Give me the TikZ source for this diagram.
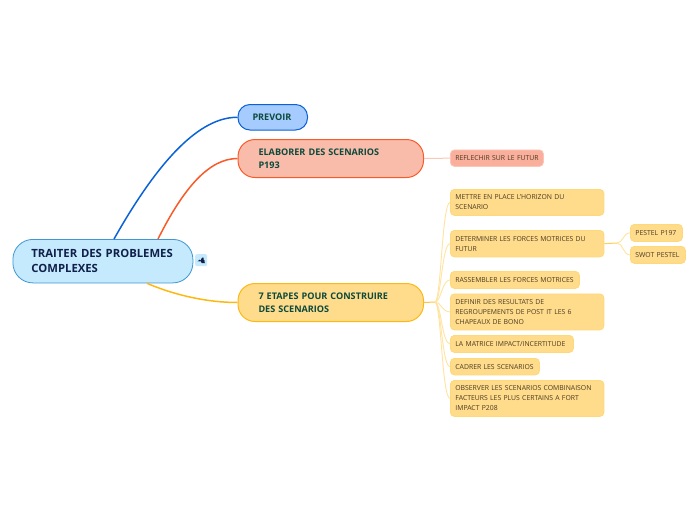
\documentclass[tikz,border=0pt]{standalone}
\usepackage{fontspec}
\setmainfont{Open Sans}
\definecolor{rootfill}{HTML}{C5E9FD}
\definecolor{rootline}{HTML}{3F97D3}
\definecolor{rootink}{HTML}{10204A}
\definecolor{bluefill}{HTML}{A6CBFE}
\definecolor{blueline}{HTML}{0A62D6}
\definecolor{redfill}{HTML}{FABCAA}
\definecolor{redline}{HTML}{FA5A28}
\definecolor{yelfill}{HTML}{FFDB8C}
\definecolor{yelline}{HTML}{FDB813}
\definecolor{maink}{HTML}{0B4A3C}
\definecolor{subink}{HTML}{4A3A20}
\definecolor{redsub}{HTML}{F9AF9B}
\definecolor{redsubline}{HTML}{FCC6B6}
\definecolor{yelsubline}{HTML}{FFE3A0}
\definecolor{yelboxline}{HTML}{FFD878}
\tikzset{
 x=1pt,y=-1pt,
 rootbox/.style={draw=rootline,fill=rootfill,line width=.8pt,rounded corners=20pt,anchor=north west,text=rootink,align=left,font=\fontsize{11.3}{15}\selectfont\bfseries,inner ysep=0pt,inner xsep=0pt},
 mainbox/.style={line width=1pt,rounded corners=17pt,anchor=north west,text=maink,align=left,font=\fontsize{9.1}{13}\selectfont\bfseries,inner ysep=0pt,inner xsep=0pt},
 subbox/.style={draw=yelboxline,fill=yelfill,line width=.8pt,rounded corners=4pt,anchor=north west,text=subink,align=left,font=\fontsize{6.85}{10}\selectfont,inner ysep=0pt,inner xsep=0pt},
 redbox/.style={subbox,draw=redsubline,fill=redsub},
 maincurve/.style={line width=1.5pt},
 fan/.style={draw=yelsubline,line width=.9pt},
 stem/.style={draw=yelline!70!yelsubline,line width=1pt},
}
\begin{document}
\begin{tikzpicture}
\useasboundingbox (0,0) rectangle (696,520);
\node[rootbox,minimum width=180pt,minimum height=43.5pt,text width=143pt] (root) at (12.5,239) {\mbox{TRAITER DES PROBLEMES}\\COMPLEXES};
\node[mainbox,rounded corners=12pt,draw=blueline,fill=bluefill,minimum width=69.5pt,minimum height=25.5pt,text width=40.5pt] (prevoir) at (237.5,104) {\mbox{PREVOIR}};
\node[mainbox,draw=redline,fill=redfill,minimum width=185.5pt,minimum height=38pt,text width=144.5pt] (elab) at (237.5,139) {\mbox{ELABORER DES SCENARIOS}\\P193};
\node[mainbox,draw=yelline,fill=yelfill,minimum width=185.5pt,minimum height=38pt,text width=144.5pt] (etapes) at (237.5,283) {\mbox{7 ETAPES POUR CONSTRUIRE}\\DES SCENARIOS};
\node[redbox,minimum width=93pt,minimum height=16.5pt,text width=83pt] (reflechir) at (450,149.5) {\mbox{REFLECHIR SUR LE FUTUR}};
\node[subbox,minimum width=153.5pt,minimum height=26pt,text width=143.5pt] (mettre) at (450,189) {\mbox{METTRE EN PLACE L'HORIZON DU}\\SCENARIO};
\node[subbox,minimum width=153.5pt,minimum height=26.5pt,text width=143.5pt] (determiner) at (450,230) {\mbox{DETERMINER LES FORCES MOTRICES DU}\\FUTUR};
\node[subbox,minimum width=129pt,minimum height=17pt,text width=119pt] (rassembler) at (450,271) {\mbox{RASSEMBLER LES FORCES MOTRICES}};
\node[subbox,minimum width=153.5pt,minimum height=36pt,text width=143.5pt] (definir) at (450,293.5) {\mbox{DEFINIR DES RESULTATS DE}\\\mbox{REGROUPEMENTS DE POST IT LES 6}\\CHAPEAUX DE BONO};
\node[subbox,minimum width=123pt,minimum height=17pt,text width=113pt] (matrice) at (450,335) {\mbox{LA MATRICE IMPACT/INCERTITUDE}};
\node[subbox,minimum width=89pt,minimum height=16.5pt,text width=79pt] (cadrer) at (450,358) {\mbox{CADRER LES SCENARIOS}};
\node[subbox,minimum width=153.5pt,minimum height=36pt,text width=143.5pt] (observer) at (450,380) {\mbox{OBSERVER LES SCENARIOS COMBINAISON}\\\mbox{FACTEURS LES PLUS CERTAINS A FORT}\\IMPACT P208};
\node[subbox,minimum width=52pt,minimum height=17pt,text width=42pt] (pestel) at (630,224) {\mbox{PESTEL P197}};
\node[subbox,minimum width=55pt,minimum height=17pt,text width=45pt] (swot) at (630,246) {\mbox{SWOT PESTEL}};
\node[draw=none,fill=rootfill,rounded corners=2pt,minimum width=12pt,minimum height=12pt,inner sep=0pt,anchor=north west] (icon) at (195,254) {};
\fill[rootink] ([shift={(2.5,7.5)}]icon.north west) -- ++(2,-2) -- ++(1,1) -- ++(1.5,-3) -- ++(1.5,0) -- ++(0,2) -- ++(1.5,1.5) -- ++(-.8,.5) -- ++(.8,1.5) -- ++(-3.5,0) -- ++(-.5,-2) -- ++(-1,.5) -- ++(-1,-.5) -- cycle;
\coordinate (b1) at (435,302);
\coordinate (b2) at (617,243);
\draw[blueline,maincurve] ([xshift=101.5pt]root.north west) .. controls +(52,-92) and +(-32,0) .. (prevoir.west);
\draw[redline,maincurve] ([xshift=145.5pt]root.north west) .. controls +(26,-52) and +(-28,0) .. (elab.west);
\draw[yelline,maincurve] ([xshift=134.5pt]root.south west) .. controls +(28,12) and +(-30,0) .. (etapes.west);
\draw[redsubline,line width=1pt] (elab.east) -- (reflechir.west);
\draw[stem] (etapes.east) -- (b1);
\foreach \n in {mettre,determiner,rassembler,definir,matrice,cadrer,observer}
  \draw[fan] (b1) .. controls +(6,0) and +(-8,0) .. (\n.west);
\draw[stem,yelline!50!yelsubline] (determiner.east) -- (b2);
\foreach \n in {pestel,swot}
  \draw[fan] (b2) .. controls +(6,0) and +(-7,0) .. (\n.west);
\end{tikzpicture}
\end{document}
